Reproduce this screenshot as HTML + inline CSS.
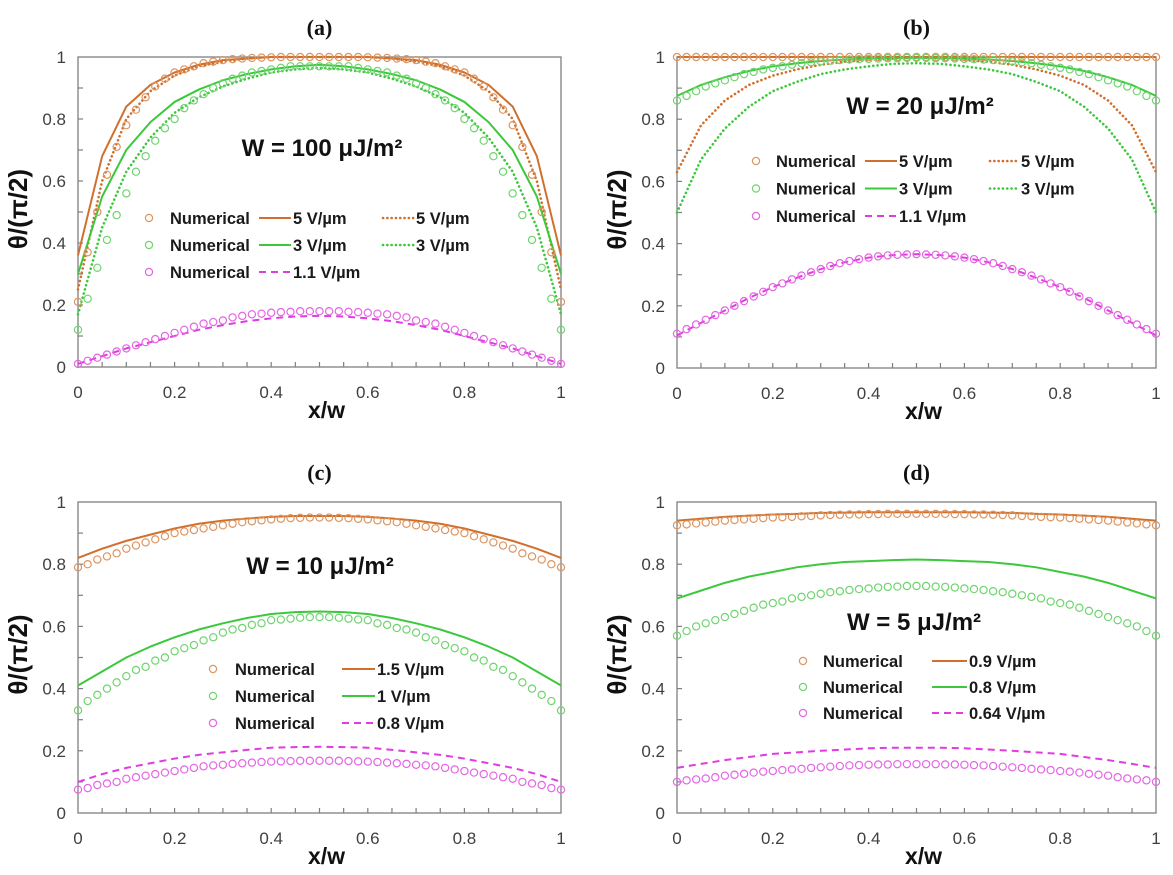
<!DOCTYPE html>
<html><head><meta charset="utf-8">
<style>
html,body{margin:0;padding:0;background:#fff;}
svg{display:block;}
text{font-family:"Liberation Sans",sans-serif;}
.tl{font-size:17px;fill:#404040;}
.lg{font-size:16.5px;font-weight:bold;fill:#1a1a1a;}
.ttl{font-family:"Liberation Serif",serif;font-size:22px;font-weight:bold;fill:#111;}
.ax{font-size:23px;font-weight:bold;fill:#111;}
.ya{font-size:26px;font-weight:bold;fill:#111;}
.wl{font-size:24px;font-weight:bold;fill:#111;}
</style></head>
<body>
<svg id="fig" width="1173" height="875" viewBox="0 0 1173 875" xmlns="http://www.w3.org/2000/svg"></svg>
<script>
// ---------- data (x = 0..1, evenly spaced) ----------
const xTickLabels = ["0","0.2","0.4","0.6","0.8","1"];
const yTickLabels = ["0","0.2","0.4","0.6","0.8","1"];

// Panel (a) W = 100
const aOrNum=[0.21,0.37,0.50,0.62,0.71,0.78,0.83,0.87,0.905,0.93,0.95,0.96,0.97,0.98,0.985,0.99,0.993,0.995,0.997,0.998,0.999,1,1,1,1,1,1,1,1,1,0.999,0.998,0.997,0.995,0.993,0.99,0.985,0.98,0.97,0.96,0.95,0.93,0.905,0.87,0.83,0.78,0.71,0.62,0.50,0.37,0.21];
const aGrNum=[0.12,0.22,0.32,0.41,0.49,0.56,0.63,0.68,0.73,0.77,0.80,0.835,0.86,0.88,0.90,0.915,0.93,0.94,0.95,0.955,0.96,0.965,0.97,0.97,0.97,0.97,0.97,0.97,0.97,0.965,0.96,0.955,0.95,0.94,0.93,0.915,0.90,0.88,0.86,0.835,0.80,0.77,0.73,0.68,0.63,0.56,0.49,0.41,0.32,0.22,0.12];
const aMaNum=[0.01,0.02,0.03,0.04,0.05,0.06,0.07,0.08,0.09,0.10,0.11,0.12,0.13,0.14,0.145,0.15,0.16,0.165,0.17,0.172,0.175,0.177,0.178,0.18,0.18,0.18,0.18,0.18,0.178,0.177,0.175,0.172,0.17,0.165,0.16,0.15,0.145,0.14,0.13,0.12,0.11,0.10,0.09,0.08,0.07,0.06,0.05,0.04,0.03,0.02,0.01];
const aOrSolid=[0.36,0.68,0.84,0.91,0.95,0.975,0.99,0.995,1,1,1,1,1,0.995,0.99,0.975,0.95,0.91,0.84,0.68,0.36];
const aOrDot=[0.25,0.60,0.80,0.89,0.94,0.97,0.985,0.995,1,1,1,1,1,0.995,0.985,0.97,0.94,0.89,0.80,0.60,0.25];
const aGrSolid=[0.30,0.55,0.70,0.79,0.855,0.895,0.925,0.945,0.96,0.97,0.975,0.97,0.96,0.945,0.925,0.895,0.855,0.79,0.70,0.55,0.30];
const aGrDot=[0.17,0.45,0.63,0.74,0.82,0.87,0.905,0.93,0.95,0.96,0.965,0.96,0.95,0.93,0.905,0.87,0.82,0.74,0.63,0.45,0.17];
const aMaDash=[0.01,0.035,0.06,0.08,0.10,0.12,0.135,0.148,0.157,0.163,0.165,0.163,0.157,0.148,0.135,0.12,0.10,0.08,0.06,0.035,0.01];

// Panel (b) W = 20
const bOrNum=[1,1,1,1,1,1,1,1,1,1,1,1,1,1,1,1,1,1,1,1,1,1,1,1,1,1,1,1,1,1,1,1,1,1,1,1,1,1,1,1,1,1,1,1,1,1,1,1,1,1,1];
const bGrNum=[0.86,0.875,0.89,0.905,0.915,0.925,0.935,0.945,0.952,0.96,0.965,0.97,0.975,0.98,0.983,0.986,0.988,0.99,0.992,0.993,0.994,0.995,0.996,0.996,0.997,0.997,0.997,0.996,0.996,0.995,0.994,0.993,0.992,0.99,0.988,0.986,0.983,0.98,0.975,0.97,0.965,0.96,0.952,0.945,0.935,0.925,0.915,0.905,0.89,0.875,0.86];
const bMaNum=[0.11,0.125,0.14,0.155,0.17,0.185,0.20,0.215,0.23,0.245,0.26,0.272,0.285,0.297,0.308,0.318,0.328,0.337,0.344,0.35,0.355,0.359,0.362,0.364,0.365,0.366,0.365,0.364,0.362,0.359,0.355,0.35,0.344,0.337,0.328,0.318,0.308,0.297,0.285,0.272,0.26,0.245,0.23,0.215,0.20,0.185,0.17,0.155,0.14,0.125,0.11];
const bOrSolid=[1,1,1,1,1,1,1,1,1,1,1,1,1,1,1,1,1,1,1,1,1];
const bOrDot=[0.63,0.78,0.86,0.91,0.94,0.96,0.975,0.985,0.99,0.995,1,0.995,0.99,0.985,0.975,0.96,0.94,0.91,0.86,0.78,0.63];
const bGrSolid=[0.875,0.91,0.935,0.955,0.97,0.98,0.987,0.992,0.995,0.997,0.997,0.997,0.995,0.992,0.987,0.98,0.97,0.955,0.935,0.91,0.875];
const bGrDot=[0.50,0.67,0.77,0.84,0.89,0.92,0.945,0.96,0.97,0.978,0.98,0.978,0.97,0.96,0.945,0.92,0.89,0.84,0.77,0.67,0.50];
const bMaDash=[0.105,0.145,0.185,0.225,0.26,0.29,0.318,0.34,0.355,0.363,0.366,0.363,0.355,0.34,0.318,0.29,0.26,0.225,0.185,0.145,0.105];

// Panel (c) W = 10
const cOrNum=[0.79,0.80,0.815,0.825,0.835,0.85,0.86,0.87,0.88,0.89,0.90,0.905,0.91,0.915,0.92,0.925,0.93,0.935,0.938,0.941,0.944,0.946,0.948,0.949,0.95,0.95,0.95,0.949,0.948,0.946,0.944,0.941,0.938,0.935,0.93,0.925,0.92,0.915,0.91,0.905,0.90,0.89,0.88,0.87,0.86,0.85,0.835,0.825,0.815,0.80,0.79];
const cGrNum=[0.33,0.36,0.38,0.40,0.42,0.44,0.46,0.47,0.49,0.50,0.52,0.53,0.54,0.555,0.565,0.58,0.59,0.595,0.605,0.61,0.62,0.622,0.625,0.628,0.63,0.63,0.63,0.628,0.625,0.622,0.62,0.61,0.605,0.595,0.59,0.58,0.565,0.555,0.54,0.53,0.52,0.50,0.49,0.47,0.46,0.44,0.42,0.40,0.38,0.36,0.33];
const cMaNum=[0.075,0.08,0.09,0.095,0.10,0.11,0.115,0.12,0.125,0.13,0.135,0.14,0.145,0.15,0.153,0.155,0.158,0.16,0.162,0.164,0.165,0.166,0.167,0.168,0.168,0.168,0.168,0.168,0.167,0.166,0.165,0.164,0.162,0.16,0.158,0.155,0.153,0.15,0.145,0.14,0.135,0.13,0.125,0.12,0.115,0.11,0.10,0.095,0.09,0.08,0.075];
const cOrSolid=[0.82,0.85,0.875,0.895,0.915,0.93,0.94,0.947,0.952,0.955,0.955,0.955,0.952,0.947,0.94,0.93,0.915,0.895,0.875,0.85,0.82];
const cGrSolid=[0.41,0.455,0.50,0.535,0.565,0.59,0.61,0.627,0.64,0.646,0.648,0.646,0.64,0.627,0.61,0.59,0.565,0.535,0.50,0.455,0.41];
const cMaDash=[0.10,0.125,0.145,0.16,0.175,0.187,0.195,0.203,0.21,0.212,0.213,0.212,0.21,0.203,0.195,0.187,0.175,0.16,0.145,0.125,0.10];

// Panel (d) W = 5
const dOrNum=[0.925,0.928,0.931,0.934,0.937,0.94,0.942,0.944,0.946,0.948,0.95,0.951,0.952,0.954,0.955,0.957,0.958,0.959,0.96,0.96,0.961,0.961,0.962,0.962,0.962,0.962,0.962,0.962,0.962,0.961,0.961,0.96,0.96,0.959,0.958,0.957,0.955,0.954,0.952,0.951,0.95,0.948,0.946,0.944,0.942,0.94,0.937,0.934,0.931,0.928,0.925];
const dGrNum=[0.57,0.585,0.60,0.61,0.62,0.63,0.64,0.65,0.66,0.67,0.675,0.68,0.69,0.695,0.70,0.705,0.71,0.713,0.717,0.72,0.722,0.725,0.727,0.728,0.73,0.73,0.73,0.728,0.727,0.725,0.722,0.72,0.717,0.713,0.71,0.705,0.70,0.695,0.69,0.68,0.675,0.67,0.66,0.65,0.64,0.63,0.62,0.61,0.60,0.585,0.57];
const dMaNum=[0.10,0.105,0.108,0.111,0.115,0.12,0.123,0.126,0.13,0.133,0.135,0.138,0.14,0.142,0.145,0.147,0.149,0.151,0.153,0.154,0.155,0.156,0.156,0.157,0.157,0.157,0.157,0.157,0.156,0.156,0.155,0.154,0.153,0.151,0.149,0.147,0.145,0.142,0.14,0.138,0.135,0.133,0.13,0.126,0.123,0.12,0.115,0.111,0.108,0.105,0.10];
const dOrSolid=[0.94,0.946,0.952,0.956,0.96,0.962,0.965,0.966,0.967,0.967,0.967,0.967,0.967,0.966,0.965,0.962,0.96,0.956,0.952,0.946,0.94];
const dGrSolid=[0.69,0.715,0.74,0.76,0.775,0.79,0.80,0.807,0.81,0.813,0.815,0.813,0.81,0.807,0.80,0.79,0.775,0.76,0.74,0.715,0.69];
const dMaDash=[0.145,0.158,0.17,0.18,0.19,0.195,0.20,0.204,0.208,0.21,0.21,0.21,0.208,0.204,0.20,0.195,0.19,0.18,0.17,0.158,0.145];

// ---------- drawing ----------
const NS="http://www.w3.org/2000/svg";
const svg=document.getElementById('fig');
const OR="#d0702c", GR="#3cc83c", MA="#e03ce0";
const ORM="#dd9560", GRM="#6fd46f", MAM="#e466e4";
const STY={
  solid:{w:2,dash:null,cap:"butt"},
  dot:{w:2.6,dash:"0.1 4.2",cap:"round"},
  dash:{w:2,dash:"7 5",cap:"butt"}
};
function mk(tag,attrs,parent){const e=document.createElementNS(NS,tag);for(const k in attrs)e.setAttribute(k,attrs[k]);(parent||svg).appendChild(e);return e;}

function panel(p){
  const g=mk('g',{});
  
  
  const sx=v=>p.x0+v*(p.x1-p.x0);
  const sy=v=>p.yb-v*(p.yb-p.yt);
  const t=mk('text',{x:(p.x0+p.x1)/2,y:p.yt-22,'text-anchor':'middle',class:'ttl'},g);t.textContent='('+p.id+')';
  
  const fr=mk('rect',{x:p.x0,y:p.yt,width:p.x1-p.x0,height:p.yb-p.yt,fill:'none',stroke:'#7f7f7f','stroke-width':1.3},g);
  
  for(let i=1;i<10;i++){const y=sy(i/10);const l=mk('line',{x1:p.x0,x2:p.x0+5,y1:y,y2:y,stroke:'#7f7f7f','stroke-width':1.2},g);
    }
  for(let i=1;i<20;i++){const x=sx(i/20);const l=mk('line',{x1:x,x2:x,y1:p.yb,y2:p.yb-5,stroke:'#7f7f7f','stroke-width':1.2},g);
    }
  yTickLabels.forEach((s,i)=>{const e=mk('text',{x:p.x0-12,y:sy(i/5)+6,'text-anchor':'end',class:'tl'},g);e.textContent=s;
    });
  xTickLabels.forEach((s,i)=>{const e=mk('text',{x:sx(i/5),y:p.yb+31,'text-anchor':'middle',class:'tl'},g);e.textContent=s;
    });
  const xa=mk('text',{x:(p.x0+p.x1)/2+7,y:p.yb+51,'text-anchor':'middle',class:'ax'},g);xa.textContent='x/w';
  
  const cy=(p.yt+p.yb)/2-3;
  const yx=p.x0-51;
  const ya=mk('text',{x:yx,y:cy,'text-anchor':'middle',class:'ya',transform:'rotate(-90 '+yx+' '+cy+')'},g);ya.textContent='θ/(π/2)';
  
  const w=mk('text',{x:p.wx,y:p.wy,'text-anchor':'middle',class:'wl'},g);
  w.textContent='W = '+p.W+' μJ/m²';
  
  p.lines.forEach(L=>{
    const n=L.v.length;const st=STY[L.s];
    const d=L.v.map((v,i)=>(i?'L':'M')+sx(i/(n-1)).toFixed(2)+','+sy(v).toFixed(2)).join(' ');
    const a={d:d,fill:'none',stroke:L.c,'stroke-width':st.w,'stroke-linecap':st.cap,'stroke-linejoin':'round'};
    if(st.dash)a['stroke-dasharray']=st.dash;
    const e=mk('path',a,g);
    
  });
  p.marks.forEach(M=>{
    const mg=mk('g',{},g);
    
    const n=M.v.length;
    M.v.forEach((v,i)=>{const c=mk('circle',{cx:sx(i/(n-1)),cy:sy(v),r:3.6,fill:'none',stroke:M.c,'stroke-width':1.2},mg);
      });
  });
  const lg=mk('g',{},g);
  
  p.legend.rows.forEach((r,k)=>{
    const y=p.legend.rows0+k*p.legend.dy;
    const eg=mk('g',{},lg);
    
    mk('circle',{cx:p.legend.mx,cy:y,r:3.6,fill:'none',stroke:r.mc,'stroke-width':1.2},eg);
    const tn=mk('text',{x:p.legend.tx,y:y+6,class:'lg'},eg);tn.textContent='Numerical';
    r.items.forEach(it=>{
      const st=STY[it.s];
      const a={x1:it.x1,x2:it.x2,y1:y,y2:y,stroke:it.c,'stroke-width':st.w,'stroke-linecap':st.cap};
      if(st.dash)a['stroke-dasharray']=st.dash;
      mk('line',a,eg);
      const tt=mk('text',{x:it.x2+2,y:y+6,class:'lg'},eg);tt.textContent=it.t;
    });
  });
}

panel({id:'a',x0:78,x1:561,yt:57,yb:367,W:'100',wx:322,wy:156,
  lines:[{v:aOrSolid,c:OR,s:'solid',name:'line-5v-solid'},{v:aOrDot,c:OR,s:'dot',name:'line-5v-dotted'},
         {v:aGrSolid,c:GR,s:'solid',name:'line-3v-solid'},{v:aGrDot,c:GR,s:'dot',name:'line-3v-dotted'},
         {v:aMaDash,c:MA,s:'dash',name:'line-1-1v-dashed'}],
  marks:[{v:aOrNum,c:ORM,name:'numerical-5v'},{v:aGrNum,c:GRM,name:'numerical-3v'},{v:aMaNum,c:MAM,name:'numerical-1-1v'}],
  legend:{rows0:218,dy:27,mx:149,tx:170,rows:[
    {mc:ORM,items:[{x1:259,x2:291,c:OR,s:'solid',t:'5 V/µm'},{x1:383,x2:414,c:OR,s:'dot',t:'5 V/µm'}]},
    {mc:GRM,items:[{x1:259,x2:291,c:GR,s:'solid',t:'3 V/µm'},{x1:383,x2:414,c:GR,s:'dot',t:'3 V/µm'}]},
    {mc:MAM,items:[{x1:259,x2:291,c:MA,s:'dash',t:'1.1 V/µm'}]}]}});

panel({id:'b',x0:677,x1:1156,yt:57,yb:368,W:'20',wx:920,wy:114,
  lines:[{v:bOrSolid,c:OR,s:'solid',name:'line-5v-solid'},{v:bOrDot,c:OR,s:'dot',name:'line-5v-dotted'},
         {v:bGrSolid,c:GR,s:'solid',name:'line-3v-solid'},{v:bGrDot,c:GR,s:'dot',name:'line-3v-dotted'},
         {v:bMaDash,c:MA,s:'dash',name:'line-1-1v-dashed'}],
  marks:[{v:bOrNum,c:ORM,name:'numerical-5v'},{v:bGrNum,c:GRM,name:'numerical-3v'},{v:bMaNum,c:MAM,name:'numerical-1-1v'}],
  legend:{rows0:161,dy:27.5,mx:756,tx:776,rows:[
    {mc:ORM,items:[{x1:865,x2:897,c:OR,s:'solid',t:'5 V/µm'},{x1:990,x2:1019,c:OR,s:'dot',t:'5 V/µm'}]},
    {mc:GRM,items:[{x1:865,x2:897,c:GR,s:'solid',t:'3 V/µm'},{x1:990,x2:1019,c:GR,s:'dot',t:'3 V/µm'}]},
    {mc:MAM,items:[{x1:865,x2:897,c:MA,s:'dash',t:'1.1 V/µm'}]}]}});

panel({id:'c',x0:78,x1:561,yt:502,yb:813,W:'10',wx:320,wy:574,
  lines:[{v:cOrSolid,c:OR,s:'solid',name:'line-1-5v-solid'},{v:cGrSolid,c:GR,s:'solid',name:'line-1v-solid'},
         {v:cMaDash,c:MA,s:'dash',name:'line-0-8v-dashed'}],
  marks:[{v:cOrNum,c:ORM,name:'numerical-1-5v'},{v:cGrNum,c:GRM,name:'numerical-1v'},{v:cMaNum,c:MAM,name:'numerical-0-8v'}],
  legend:{rows0:669,dy:27,mx:213,tx:235,rows:[
    {mc:ORM,items:[{x1:342,x2:375,c:OR,s:'solid',t:'1.5 V/µm'}]},
    {mc:GRM,items:[{x1:342,x2:375,c:GR,s:'solid',t:'1 V/µm'}]},
    {mc:MAM,items:[{x1:342,x2:375,c:MA,s:'dash',t:'0.8 V/µm'}]}]}});

panel({id:'d',x0:677,x1:1156,yt:502,yb:813,W:'5',wx:914,wy:630,
  lines:[{v:dOrSolid,c:OR,s:'solid',name:'line-0-9v-solid'},{v:dGrSolid,c:GR,s:'solid',name:'line-0-8v-solid'},
         {v:dMaDash,c:MA,s:'dash',name:'line-0-64v-dashed'}],
  marks:[{v:dOrNum,c:ORM,name:'numerical-0-9v'},{v:dGrNum,c:GRM,name:'numerical-0-8v'},{v:dMaNum,c:MAM,name:'numerical-0-64v'}],
  legend:{rows0:661,dy:26,mx:803,tx:823,rows:[
    {mc:ORM,items:[{x1:932,x2:967,c:OR,s:'solid',t:'0.9 V/µm'}]},
    {mc:GRM,items:[{x1:932,x2:967,c:GR,s:'solid',t:'0.8 V/µm'}]},
    {mc:MAM,items:[{x1:932,x2:967,c:MA,s:'dash',t:'0.64 V/µm'}]}]}});
</script>
</body></html>
